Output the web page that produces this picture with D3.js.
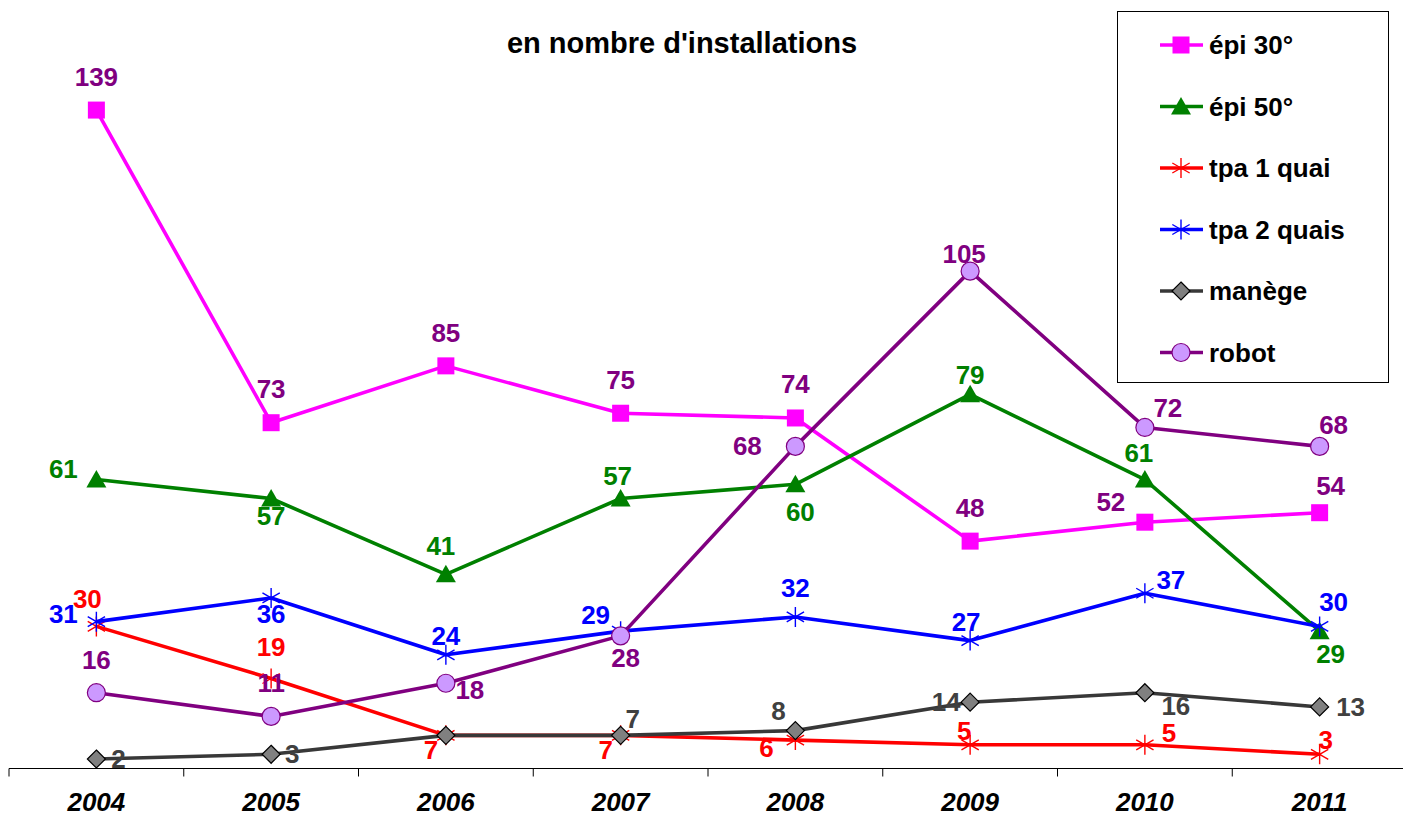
<!DOCTYPE html>
<html>
<head>
<meta charset="utf-8">
<script src="https://cdn.jsdelivr.net/npm/d3@7"></script>
<style>
  body { margin: 0; background: #fff; }
  text { font-family: "Liberation Sans", Arial, sans-serif; }
</style>
</head>
<body>
<div class="canvas"></div>
<script>
// data
const years = ['2004', '2005', '2006', '2007', '2008', '2009', '2010', '2011']
const epi30 = [139, 73, 85, 75, 74, 48, 52, 54]
const epi50 = [61, 57, 41, 57, 60, 79, 61, 29]
const tpa1 = [30, 19, 7, 7, 6, 5, 5, 3]
const tpa2 = [31, 36, 24, 29, 32, 27, 37, 30]
const manege = [2, 3, 7, 7, 8, 14, 16, 13]
const robot = [16, 11, 18, 28, 68, 105, 72, 68]
const seriesNames = ['épi 30°', 'épi 50°', 'tpa 1 quai', 'tpa 2 quais', 'manège', 'robot']

// label placement (px offset from the point), set by hand like in the original sheet
const labelOffsets = [
    [[0,-33],[0,-34],[0,-33],[0,-33],[0,-34],[0,-33],[-34,-20],[11,-27]],
    [[-33,-11],[0,18],[-5,-28],[-3,-22],[5,28],[0,-19],[-6,-27],[11,23]],
    [[-9,-27],[0,-31],[-15,15],[-15,15],[-29,8],[-6,-14],[24,-12],[6,-14]],
    [[-33,-8],[0,16],[0,-19],[-25,-16],[0,-29],[-4,-19],[26,-13],[14,-24]],
    [[22,0],[21,0],null,[12,-16],[-17,-20],[-24,0],[31,13],[31,0]],
    [[0,-33],[0,-33],[24,7],[5,22],[-48,0],[-6,-17],[23,-19],[14,-21]]
]

const styles = [
    {line: '#ff00ff', marker: 'square', fill: '#ff00ff', stroke: '#ff00ff', label: '#800080'},
    {line: '#008000', marker: 'triangle', fill: '#008000', stroke: '#008000', label: '#008000'},
    {line: '#ff0000', marker: 'star', fill: 'none', stroke: '#ff0000', label: '#ff0000'},
    {line: '#0000ff', marker: 'star', fill: 'none', stroke: '#0000ff', label: '#0000ff'},
    {line: '#383838', marker: 'diamond', fill: '#808080', stroke: '#000', label: '#404040'},
    {line: '#800080', marker: 'circle', fill: '#cc99ff', stroke: '#800080', label: '#800080'}
]

const series = [epi30, epi50, tpa1, tpa2, manege, robot].map((vals, i) => ({
    name: seriesNames[i], values: vals, style: styles[i], offsets: labelOffsets[i]
}))

const width = 1403
const height = 819

const svg = d3.select('.canvas')
    .append('svg')
    .attr('width', width)
    .attr('height', height)

const x = d3.scaleBand()
    .domain(years)
    .range([9, 1407])

const y = d3.scaleLinear()
    .domain([0, 160])
    .range([768.5, 10.6])

const cx = d => x(d) + x.bandwidth() / 2

// axis line + ticks between the categories
const xAxis = d3.axisBottom(x).tickSize(0).tickPadding(24)
const xAxisGroup = svg.append('g')
    .attr('transform', 'translate(0, 768.5)')
    .call(xAxis)
xAxisGroup.select('.domain').remove()
xAxisGroup.append('line')
    .attr('x1', 9).attr('x2', 1410)
    .attr('stroke', '#000').attr('stroke-width', 1)
xAxisGroup.selectAll('.bound')
    .data(d3.range(years.length))
    .enter().append('line')
    .attr('x1', i => x(years[i]))
    .attr('x2', i => x(years[i]))
    .attr('y1', 0).attr('y2', 8)
    .attr('stroke', '#000')
xAxisGroup.selectAll('text')
    .attr('font-size', 26)
    .attr('font-weight', 'bold')
    .attr('font-style', 'italic')
    .attr('fill', '#000')
    .attr('font-family', '"Liberation Sans", Arial, sans-serif')

// title
svg.append('text')
    .attr('x', 682).attr('y', 43)
    .attr('text-anchor', 'middle')
    .attr('dominant-baseline', 'central')
    .attr('font-size', 29)
    .attr('font-weight', 'bold')
    .text("en nombre d'installations")

function drawMarker(g, type, st) {
    if (type === 'square') {
        g.append('rect').attr('x', -8.5).attr('y', -8.5)
            .attr('width', 17).attr('height', 17).attr('fill', st.fill)
    } else if (type === 'triangle') {
        g.append('path').attr('d', 'M0,-9.5L10,8L-10,8Z').attr('fill', st.fill)
    } else if (type === 'star') {
        const r = 10
        const a = r * Math.sin(Math.PI / 3), b = r * Math.cos(Math.PI / 3)
        g.append('path')
            .attr('d', `M0,${-r}L0,${r}M${-a},${-b}L${a},${b}M${-a},${b}L${a},${-b}`)
            .attr('stroke', st.stroke).attr('stroke-width', 1.4).attr('fill', 'none')
    } else if (type === 'diamond') {
        g.append('path').attr('d', 'M0,-9L9,0L0,9L-9,0Z')
            .attr('fill', st.fill).attr('stroke', st.stroke).attr('stroke-width', 1.2)
    } else if (type === 'circle') {
        g.append('circle').attr('r', 9)
            .attr('fill', st.fill).attr('stroke', st.stroke).attr('stroke-width', 1.2)
    }
}

const line = d3.line()
    .x((d, i) => cx(years[i]))
    .y(d => y(d))

series.forEach(s => {
    const g = svg.append('g')
    g.append('path')
        .datum(s.values)
        .attr('d', line)
        .attr('fill', 'none')
        .attr('stroke', s.style.line)
        .attr('stroke-width', 3.6)
        .attr('stroke-linejoin', 'round')
    s.values.forEach((v, i) => {
        const m = g.append('g').attr('transform', `translate(${cx(years[i])}, ${y(v)})`)
        drawMarker(m, s.style.marker, s.style)
    })
})

// data labels on top
series.forEach(s => {
    s.values.forEach((v, i) => {
        const off = s.offsets[i]
        if (!off) return
        svg.append('text')
            .attr('x', cx(years[i]) + off[0])
            .attr('y', y(v) + off[1])
            .attr('text-anchor', 'middle')
            .attr('dominant-baseline', 'central')
            .attr('font-size', 26)
            .attr('font-weight', 'bold')
            .attr('fill', s.style.label)
            .text(v)
    })
})

// legend
const legend = svg.append('g')
legend.append('rect')
    .attr('x', 1117.5).attr('y', 11.5)
    .attr('width', 271).attr('height', 371)
    .attr('fill', '#fff').attr('stroke', '#000').attr('stroke-width', 1)
series.forEach((s, i) => {
    const ly = 45 + i * 61.5
    const item = legend.append('g')
    item.append('line')
        .attr('x1', 1160).attr('x2', 1203)
        .attr('y1', ly).attr('y2', ly)
        .attr('stroke', s.style.line).attr('stroke-width', 3.6)
    const m = item.append('g').attr('transform', `translate(1181, ${ly})`)
    drawMarker(m, s.style.marker, s.style)
    item.append('text')
        .attr('x', 1209).attr('y', ly)
        .attr('dominant-baseline', 'central')
        .attr('font-size', 26)
        .attr('font-weight', 'bold')
        .text(s.name)
})
</script>
</body>
</html>
